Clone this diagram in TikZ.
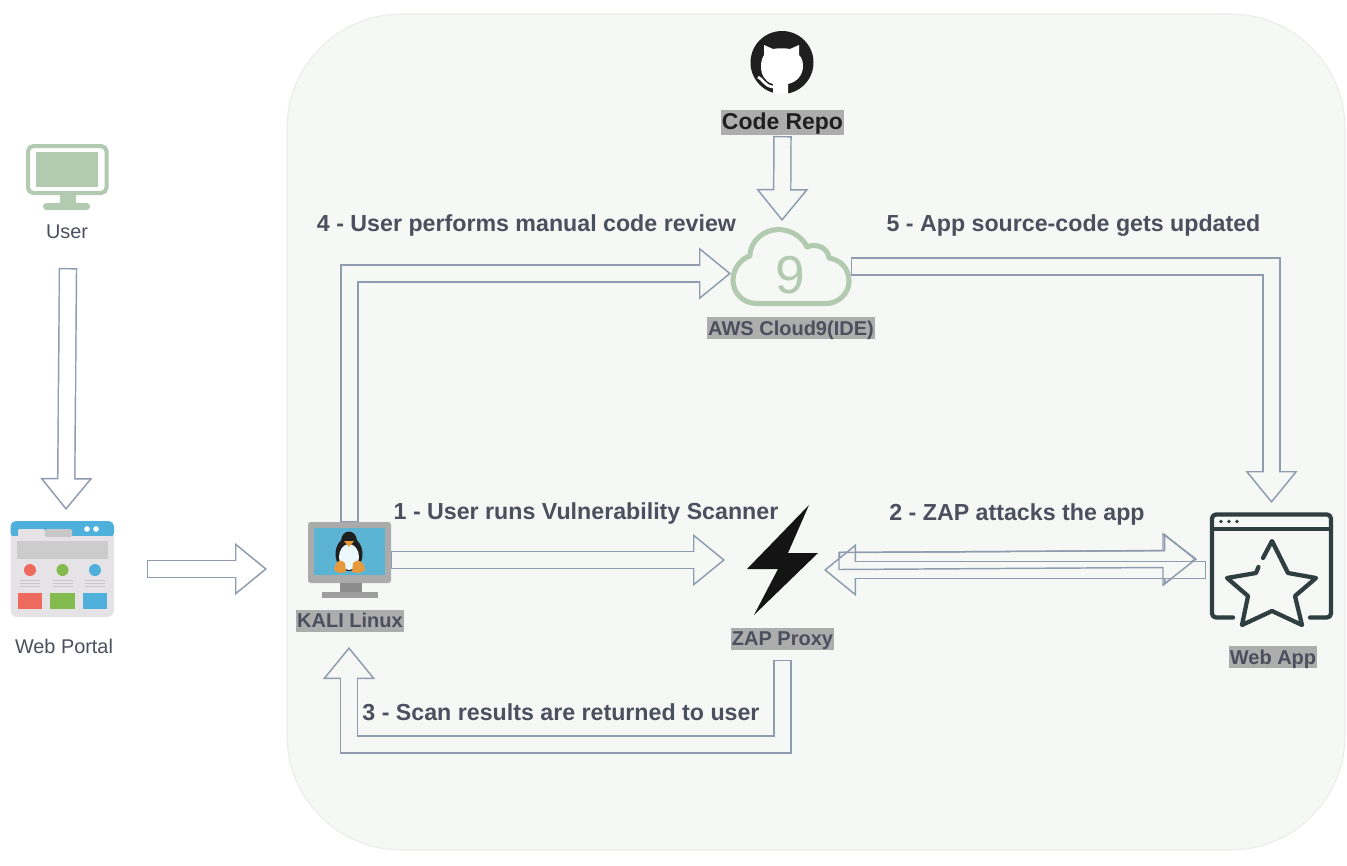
\documentclass[tikz,border=0pt]{standalone}
\usepackage{fontspec}
\setmainfont{Liberation Sans}
\usetikzlibrary{arrows.meta}
\definecolor{panelcol}{HTML}{F6F8F6}
\definecolor{panelline}{HTML}{E9ECE9}
\definecolor{edgecol}{HTML}{8F9BAF}
\definecolor{textcol}{HTML}{4B4F5E}
\definecolor{tagcol}{HTML}{ADADAD}
\definecolor{sagecol}{HTML}{B2CAB0}
\definecolor{darkcol}{HTML}{2F3E40}
\definecolor{cardcol}{HTML}{E6E3E6}
\definecolor{skycol}{HTML}{4FB0DC}
\definecolor{screencol}{HTML}{5BB4D4}
\definecolor{redcol}{HTML}{EE6A5F}
\definecolor{greencol}{HTML}{84BB4E}
\definecolor{footcol}{HTML}{E8993C}
\begin{document}
\begin{tikzpicture}[x=0.75pt, y=-0.75pt,
iconnode/.style={inner sep=0pt, outer sep=0pt},
plainlabel/.style={inner sep=0pt, outer sep=0pt, minimum height=22*0.75pt, text=textcol, font=\fontsize{14.9}{16}\selectfont},
taglabel/.style={inner sep=1pt, outer sep=0pt, fill=tagcol, minimum height=22*0.75pt, text height=10.8pt, text depth=0pt, text=textcol, font=\fontsize{15}{17}\selectfont\bfseries},
steplabel/.style={inner sep=0pt, outer sep=0pt, text height=12.5pt, text depth=0pt, text=textcol, font=\fontsize{17.4}{20}\selectfont\bfseries},
blockarrow/.style={draw=edgecol, line width=13.9pt,
  -{Triangle[length=24pt, width=39pt, line width=1.1pt, color=edgecol, fill=#1]},
  postaction={draw=#1, -, line width=11.7pt, shorten <=1.1pt, shorten >=22pt}},
blockarrow/.default=panelcol,
]
\useasboundingbox (0,0) rectangle (1347,865);
\fill[white] (0,0) rectangle (1347,865);
\draw[fill=panelcol, draw=panelline, line width=0.8pt, rounded corners=86pt] (287,14) rectangle (1345,850);

%Nodes
\node[iconnode, minimum width=62pt, minimum height=50pt]     at (67,177) (user) {};
\node[plainlabel]                                            at (67,232) (userlabel) {User};
\node[iconnode, minimum width=78pt, minimum height=72pt]     at (62,569) (portal) {};
\node[plainlabel]                                            at (64,646) (portallabel) {Web Portal};
\node[iconnode, minimum width=62.25pt, minimum height=57pt]  at (349.5,560) (kali) {};
\node[taglabel]                                              at (350,620.5) (kalilabel) {KALI Linux};
\node[iconnode, minimum width=47pt, minimum height=47pt]     at (782,62.5) (repo) {};
\node[taglabel, text=black!88, minimum height=25*0.75pt, font=\fontsize{17.2}{19}\selectfont\bfseries] at (782.5,122.5) (repolabel) {Code Repo};
\node[iconnode, minimum width=90pt, minimum height=59.25pt]  at (791,266.5) (cloud) {};
\node[taglabel]                                              at (791,328) (cloudlabel) {AWS Cloud9(IDE)};
\node[iconnode, minimum width=53.25pt, minimum height=82.5pt] at (782.5,560) (zap) {};
\node[taglabel]                                              at (782.5,638.5) (zaplabel) {ZAP Proxy};
\node[iconnode, minimum width=90.75pt, minimum height=78.75pt] at (1271.5,565.5) (webapp) {};
\node[taglabel]                                              at (1273,657) (webapplabel) {Web App};

%Step labels
\node[steplabel] at (526.5,223) (reviewstep) {4 - User performs manual code review};
\node[steplabel] at (1073.5,223) (updatestep) {5 - App source-code gets updated};
\node[steplabel] at (586,511) (scanstep) {1 - User runs Vulnerability Scanner};
\node[steplabel] at (1017,512) (attackstep) {2 - ZAP attacks the app};
\node[steplabel] at (561,712) (resultstep) {3 - Scan results are returned to user};

%User monitor
\draw[sagecol, line width=3pt, rounded corners=4pt] (28,146) rectangle (106.5,193);
\fill[sagecol] (36,152) rectangle (98,187);
\fill[sagecol] (60,195) rectangle (76,204);
\fill[sagecol, rounded corners=2.5pt] (43,203) rectangle (90,210);

%Web portal
\fill[cardcol, rounded corners=5pt] (10.5,521) rectangle (114,617);
\fill[skycol, rounded corners=4pt] (10.5,521) rectangle (114,538);
\fill[cardcol] (10.5,536) rectangle (114,541);
\fill[cardcol, rounded corners=1.5pt] (18,529) rectangle (45,537);
\fill[black!22, rounded corners=1.5pt] (45,529) rectangle (72,537);
\fill[white] (87,529) circle (2.8) (96,529) circle (2.8);
\fill[black!20] (17,541) rectangle (108,559);
\fill[redcol] (30,570) circle (6);
\fill[greencol] (62.5,570) circle (6);
\fill[skycol] (95,570) circle (6);
\foreach \col in {20,53,85}{
  \foreach \row in {580.5,583.5,586.5}{
    \draw[black!22, line width=0.6pt] (\col,\row) -- ++(20,0);
  }
}
\fill[redcol] (18,593) rectangle (42,609);
\fill[greencol] (50,593) rectangle (75,609);
\fill[skycol] (83,593) rectangle (107,609);

%Kali monitor
\fill[black!33, rounded corners=2pt] (308,522) rectangle (391,583);
\fill[screencol] (314,528) rectangle (385,575);
\fill[black!45] (340,583) rectangle (362,592);
\fill[black!38] (322,592) rectangle (378,598);
\fill[black!88] (349,554) ellipse (13.5 and 17);
\fill[black!88] (349,541) ellipse (8 and 9.5);
\fill[cyan!8!white] (349,557) ellipse (10 and 13);
\fill[footcol] (344,541) -- (354,541) -- (349,547) -- cycle;
\fill[footcol] (334,570) .. controls (335,561) and (341,558) .. (345,563) -- (346,572) -- (339,573) -- cycle;
\fill[footcol] (365,570) .. controls (364,561) and (357,558) .. (353,563) -- (352,572) -- (359,573) -- cycle;

%Github mark
\fill[black!88] (782,62.5) circle (31.5);
\fill[white] (773,94) -- (773,84) .. controls (765,82) and (761,75) .. (761,66)
  .. controls (761,60) and (763,57) .. (764,55) -- (764,45) -- (773,49)
  .. controls (778,48) and (785,48) .. (790,49) -- (799,45) -- (799,55)
  .. controls (801,57) and (803,60) .. (803,66) .. controls (803,75) and (797,82) .. (788,84) -- (788,94) -- cycle;
\draw[white, line width=2pt] (758,77) .. controls (763,79) and (764,86) .. (773,87);

%Cloud
\draw[sagecol, line width=3.8pt, line join=round]
  (757,303.5) .. controls (742,303.5) and (733,292) .. (733,280)
  .. controls (733,268) and (742,258) .. (750,256)
  .. controls (750,240) and (765,229.5) .. (778,229.5)
  .. controls (792,229.5) and (803,238) .. (807,247)
  .. controls (815,243) and (828,247) .. (829,258)
  .. controls (842,260) and (849,270) .. (849,281)
  .. controls (849,294) and (838,303.5) .. (826,303.5) -- cycle;
\node[iconnode, text=sagecol, font=\fontsize{40}{40}\selectfont] at (790,275) (cloudnine) {9};

%Zap bolt
\fill[black!92] (809,505) -- (747,569) -- (778,569) -- (754,615) -- (818,553) -- (788,553) -- cycle;

%Web app window
\draw[darkcol, line width=3.2pt, line cap=round, line join=round, rounded corners=3pt]
  (1233,617.5) -- (1212,617.5) -- (1212,514.5) -- (1331,514.5) -- (1331,617.5) -- (1310,617.5);
\draw[darkcol, line width=3.2pt] (1212,529) -- (1331,529);
\fill[darkcol] (1221,521.5) circle (1.8) (1229,521.5) circle (1.8) (1237,521.5) circle (1.8);
\draw[darkcol, line width=3.2pt, line cap=round, line join=round]
  (1263,558) -- (1272,541) -- (1288,573) -- (1316,578) -- (1295,596) -- (1302,625) -- (1272,611)
  -- (1242,625) -- (1248,596) -- (1227,578) -- (1256,573) -- (1258.5,567);

%Lines
\draw[blockarrow=white] ([shift={(1,25)}]userlabel.south) -- ([shift={(4,-11)}]portal.north);
\draw[blockarrow=white] ([shift={(33,0)}]portal.east) -- ([shift={(-41,9)}]kali.west);
\draw[blockarrow] ([shift={(0,1)}]repolabel.south) -- ([shift={(-9,-6)}]cloud.north);
\draw[blockarrow] (kali.north) |- ([shift={(0,7)}]cloud.west);
\draw[blockarrow] (cloud.east) -| ([shift={(0,-10)}]webapp.north);
\draw[blockarrow] (kali.east) -- ([shift={(-22,0)}]zap.west);
\draw[blockarrow] ([shift={(21,1)}]zap.east) -- ([shift={(-15,-6.5)}]webapp.west);
\draw[blockarrow] ([shift={(-5,4.5)}]webapp.west) -- ([shift={(6,10)}]zap.east);
\draw[blockarrow] ([shift={(0,10)}]zaplabel.south) -- ++(0,85) -| ([shift={(-1,15.5)}]kalilabel.south);
%upper arrow shows through the lower one
\draw[edgecol, line width=1.1pt] (839,552.5) -- (1163,550.5) -- (1163,534) -- (1196,559) -- (1163,585) -- (1163,567.5) -- (839,569.5) -- cycle;
\end{tikzpicture}
\end{document}
